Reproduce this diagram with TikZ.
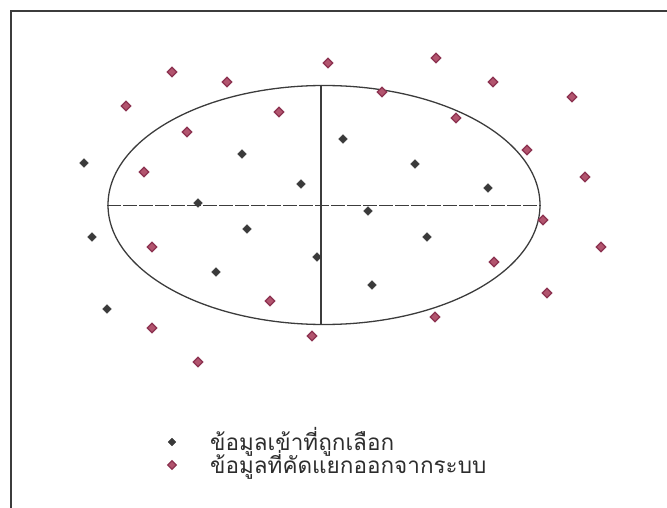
\documentclass[tikz,border=0pt]{standalone}
\usepackage{fontspec}
\newfontfamily\thaifont[Script=Thai]{Loma}
\usepackage{xcolor}
\usetikzlibrary{
  positioning,
  shapes.geometric
}
\definecolor{dotgray}{RGB}{58,58,58}
\definecolor{dotred}{RGB}{178,84,110}
\definecolor{dotredline}{RGB}{140,50,80}
\definecolor{framegray}{RGB}{60,60,60}
\definecolor{textgray}{RGB}{45,45,45}

\begin{document}
\begin{tikzpicture}[
  x=1pt, y=-1pt,
  % --- node styles ---
  seldot/.style={
    diamond, fill=dotgray, draw=dotgray, inner sep=0pt,
    minimum width=9pt, minimum height=9pt
  },
  rejdot/.style={
    diamond, fill=dotred, draw=dotredline, line width=1.2pt, inner sep=0pt,
    minimum width=10pt, minimum height=10pt
  },
  region/.style={
    ellipse, draw=framegray, line width=1.3pt,
    minimum width=432pt, minimum height=239pt
  },
  legtext/.style={
    font=\thaifont\fontsize{22.5pt}{24pt}\selectfont, text=textgray,
    anchor=west, inner sep=0pt
  },
]
\useasboundingbox (0,0) rectangle (667,508);

% Frame (top and left edges only)
\coordinate (frametop) at (667,11);
\coordinate (framecorner) at (11,11);
\coordinate (framebottom) at (11,508);
\draw[framegray, line width=2pt] (frametop) -- (framecorner) -- (framebottom);

% Region with its axes
\node[region] (zone) at (324,205) {};
\draw[framegray, line width=0.9pt, dash pattern=on 14pt off 2pt] (zone.west) -- (zone.east);
\draw[framegray, line width=1.4pt] ([xshift=-3pt]zone.north) -- ([xshift=-3pt]zone.south);

% Selected input data
\foreach \px/\py [count=\i] in {84/163, 242/154, 301/184, 198/203, 92/237,
    247/229, 317/257, 343/139, 415/164, 488/188, 368/211, 427/237,
    216/272, 107/309, 372/285}
  \node[seldot] (sel\i) at (\px,\py) {};

% Data removed from the system
\foreach \px/\py [count=\i] in {172/72, 227/82, 328/63, 126/106, 279/112,
    187/132, 144/172, 152/247, 436/58, 493/82, 572/97, 382/92, 456/118,
    527/150, 585/177, 543/220, 601/247, 494/262, 547/293, 435/317,
    270/301, 152/328, 312/336, 198/362}
  \node[rejdot] (rej\i) at (\px,\py) {};

% Legend
\node[seldot, minimum width=8pt, minimum height=8pt] (legsel) at (172,442) {};
\node[rejdot, minimum width=9pt, minimum height=9pt] (legrej) at (172,465) {};
\node[legtext, right=38pt of legsel.center] (legseltext) {ข้อมูลเข้าที่ถูกเลือก};
\node[legtext, right=38pt of legrej.center] (legrejtext) {ข้อมูลที่คัดแยกออกจากระบบ};

\end{tikzpicture}
\end{document}
